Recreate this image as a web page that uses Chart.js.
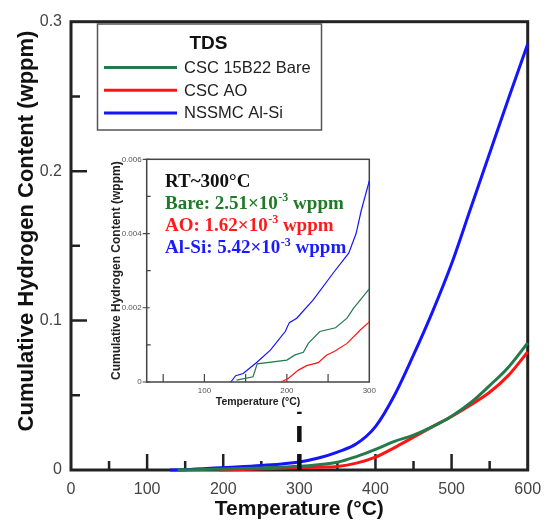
<!DOCTYPE html>
<html>
<head>
<meta charset="utf-8">
<script src="https://cdn.jsdelivr.net/npm/chart.js@4.4.1/dist/chart.umd.min.js"></script>
<style>
    html, body { margin: 0; padding: 0; background: #fff; }
    #wrap { position: relative; width: 548px; height: 522px; }
    #main { position: absolute; left: 0; top: 0; }
    #inset { position: absolute; left: 100px; top: 148px; }
</style>
</head>
<body>
<div id="wrap">
    <canvas id="main" width="548" height="522"></canvas>
    <canvas id="inset" width="280" height="264"></canvas>
</div>
<script>
// === DATA ===

// main plot, cumulative hydrogen (wppm) vs temperature (°C)
const tempBare = [140, 200, 250, 300, 325, 350, 375, 400, 425, 450, 475, 500, 525, 550, 575, 600];
const valBare  = [0.0001, 0.0006, 0.0014, 0.0025, 0.0036, 0.0052, 0.0090, 0.0138, 0.0192, 0.0233, 0.0290, 0.0360, 0.0450, 0.0565, 0.0690, 0.0850];

const tempAO = [195, 225, 250, 300, 325, 350, 375, 400, 425, 450, 475, 500, 525, 550, 575, 600];
const valAO  = [0, 0.0004, 0.0008, 0.0016, 0.0019, 0.0024, 0.0046, 0.0086, 0.0150, 0.0220, 0.0290, 0.0358, 0.0435, 0.0520, 0.0635, 0.0790];

const tempAlSi = [130, 150, 200, 250, 300, 325, 350, 375, 400, 425, 450, 475, 500, 525, 550, 575, 600];
const valAlSi  = [0, 0.0002, 0.0016, 0.0030, 0.0054, 0.0080, 0.0120, 0.0175, 0.0290, 0.0500, 0.0770, 0.1060, 0.1380, 0.1750, 0.2120, 0.2490, 0.2850];

// inset, RT ~ 300 °C
const insetTempBare = [139, 159, 164, 200, 210, 220, 226, 240, 259, 273, 281, 300];
const insetValBare  = [0.00005, 0.00014, 0.00049, 0.00059, 0.00073, 0.0008, 0.00104, 0.00136, 0.00146, 0.00172, 0.00199, 0.00251];

const insetTempAO = [193, 202, 214, 224, 238, 248, 258, 273, 289, 300];
const insetValAO  = [0, 0.0001, 0.00032, 0.00044, 0.00052, 0.00072, 0.00083, 0.00104, 0.0014, 0.00162];

const insetTempAlSi = [132, 138, 147, 163, 180, 198, 203, 212, 232, 256, 275, 284, 290, 300];
const insetValAlSi  = [0, 0.00017, 0.00023, 0.00052, 0.00086, 0.00136, 0.0016, 0.00172, 0.00221, 0.00293, 0.00347, 0.0040, 0.0046, 0.00542];

const seriesLabels = ['CSC 15B22 Bare', 'CSC AO', 'NSSMC Al-Si'];
const seriesColors = ['#237a4b', '#ff1414', '#1414ff'];

const noteNames  = ['Bare', 'AO', 'Al-Si'];
const noteValues = ['2.51', '1.62', '5.42'];
const noteColors = ['#1f7a26', '#ff1a1a', '#1a1aff'];

// ticks
const xTickLabels = [0, 100, 200, 300, 400, 500, 600];
const xMinorTicks = [50, 150, 250, 350, 450, 550];
const yTickLabels = [0, 0.1, 0.2, 0.3];
const yMinorTicks = [0.05, 0.15, 0.25];

const insetXTickLabels = [100, 200, 300];
const insetXTickMarks  = [50, 100, 150, 200, 250];
const insetYTickLabels = [0, 0.002, 0.004, 0.006];
const insetYMinorTicks = [0.001, 0.003, 0.005];

const markerTemp = 300;
const markerTop = 0.039;

const SANS = "'Liberation Sans', Arial, sans-serif";
const SERIF = "'Liberation Serif', 'Times New Roman', serif";

const pts = (xs, ys) => xs.map((x, i) => ({ x: x, y: ys[i] }));

// keep label overhang from shrinking the plot area
const noPad = s => { s.paddingLeft = 0; s.paddingRight = 0; s.paddingTop = 0; s.paddingBottom = 0; };

// === MAIN CHART ===
const mainDecor = {
    id: 'mainDecor',
    beforeDatasetsDraw(chart) {
        const { ctx, chartArea: a, scales: { x, y } } = chart;
        ctx.save();
        // frame
        ctx.strokeStyle = '#222';
        ctx.lineWidth = 3;
        ctx.strokeRect(a.left, a.top, a.right - a.left, a.bottom - a.top);
        // inward ticks
        ctx.lineWidth = 2.5;
        ctx.beginPath();
        xTickLabels.slice(1, -1).forEach(v => {
            const px = x.getPixelForValue(v);
            ctx.moveTo(px, a.bottom); ctx.lineTo(px, a.bottom - 16);
        });
        xMinorTicks.forEach(v => {
            const px = x.getPixelForValue(v);
            ctx.moveTo(px, a.bottom); ctx.lineTo(px, a.bottom - 9);
        });
        yTickLabels.slice(1, -1).forEach(v => {
            const py = y.getPixelForValue(v);
            ctx.moveTo(a.left, py); ctx.lineTo(a.left + 16, py);
        });
        yMinorTicks.forEach(v => {
            const py = y.getPixelForValue(v);
            ctx.moveTo(a.left, py); ctx.lineTo(a.left + 9, py);
        });
        ctx.stroke();
        ctx.restore();
    },
    afterDraw(chart) {
        const { ctx, scales: { x, y } } = chart;
        ctx.save();

        // dashed marker at 300 °C
        const mx = x.getPixelForValue(markerTemp);
        ctx.strokeStyle = '#111';
        ctx.lineWidth = 4.5;
        ctx.setLineDash([16, 12]);
        ctx.beginPath();
        ctx.moveTo(mx, y.getPixelForValue(0));
        ctx.lineTo(mx, y.getPixelForValue(markerTop));
        ctx.stroke();
        ctx.setLineDash([]);

        // y title
        ctx.fillStyle = '#111';
        ctx.font = 'bold 22px ' + SANS;
        ctx.textAlign = 'center';
        ctx.textBaseline = 'alphabetic';
        ctx.translate(33, 231);
        ctx.rotate(-Math.PI / 2);
        ctx.fillText('Cumulative Hydrogen Content (wppm)', 0, 0);
        ctx.setTransform(1, 0, 0, 1, 0, 0);

        // legend box
        ctx.fillStyle = '#fff';
        ctx.fillRect(97.5, 24, 224, 106);
        ctx.strokeStyle = '#555';
        ctx.lineWidth = 1.5;
        ctx.strokeRect(97.5, 24, 224, 106);
        ctx.fillStyle = '#111';
        ctx.font = 'bold 19px ' + SANS;
        ctx.textAlign = 'center';
        ctx.fillText('TDS', 208.5, 48.5);
        ctx.textAlign = 'left';
        ctx.font = '16.5px ' + SANS;
        seriesLabels.forEach((lab, i) => {
            const ly = 67.5 + i * 22.7;
            ctx.strokeStyle = seriesColors[i];
            ctx.lineWidth = 3;
            ctx.beginPath();
            ctx.moveTo(104, ly); ctx.lineTo(177, ly);
            ctx.stroke();
            ctx.fillStyle = '#222';
            ctx.fillText(lab, 184, ly + 5.5);
        });
        ctx.restore();
    }
};

const mainLine = (i, xs, ys) => ({
    label: seriesLabels[i],
    data: pts(xs, ys),
    borderColor: seriesColors[i],
    borderWidth: 3,
    pointRadius: 0,
    cubicInterpolationMode: 'monotone',
    clip: false
});

new Chart(document.getElementById('main'), {
    type: 'line',
    data: {
        datasets: [
            mainLine(0, tempBare, valBare),
            mainLine(1, tempAO, valAO),
            mainLine(2, tempAlSi, valAlSi)
        ]
    },
    options: {
        responsive: false,
        animation: false,
        layout: { padding: { top: 21.7, right: 20.3, bottom: 0, left: 0 } },
        plugins: { legend: { display: false }, tooltip: { enabled: false } },
        scales: {
            x: {
                type: 'linear', min: 0, max: 600,
                grid: { display: false, drawTicks: false },
                border: { display: false },
                afterBuildTicks: s => { s.ticks = xTickLabels.map(v => ({ value: v })); },
                afterFit: s => { s.height = 52; noPad(s); },
                ticks: { padding: 10, color: '#444', maxRotation: 0, autoSkip: false,
                         font: { family: SANS, size: 16 } },
                title: { display: true, text: 'Temperature (°C)', color: '#111', padding: 0,
                         font: { family: SANS, size: 21, weight: 'bold' } }
            },
            y: {
                type: 'linear', min: 0, max: 0.3,
                grid: { display: false, drawTicks: false },
                border: { display: false },
                afterBuildTicks: s => { s.ticks = yTickLabels.map(v => ({ value: v })); },
                afterFit: s => { s.width = 71; noPad(s); },
                ticks: { padding: 9, color: '#444', autoSkip: false,
                         font: { family: SANS, size: 16 },
                         callback: v => String(v) }
            }
        }
    },
    plugins: [mainDecor]
});

// === INSET CHART ===
const insetDecor = {
    id: 'insetDecor',
    beforeDatasetsDraw(chart) {
        const { ctx, chartArea: a, scales: { x, y } } = chart;
        ctx.save();
        ctx.fillStyle = '#fff';
        ctx.fillRect(a.left, a.top, a.right - a.left, a.bottom - a.top);
        ctx.strokeStyle = '#444';
        ctx.lineWidth = 1.5;
        ctx.strokeRect(a.left, a.top, a.right - a.left, a.bottom - a.top);
        ctx.lineWidth = 1.2;
        ctx.beginPath();
        insetXTickMarks.forEach(v => {
            const px = x.getPixelForValue(v);
            ctx.moveTo(px, a.bottom); ctx.lineTo(px, a.bottom - 8);
        });
        insetYTickLabels.forEach(v => {
            const py = y.getPixelForValue(v);
            ctx.moveTo(a.left - 4, py); ctx.lineTo(a.left + 3, py);
        });
        insetYMinorTicks.forEach(v => {
            const py = y.getPixelForValue(v);
            ctx.moveTo(a.left, py); ctx.lineTo(a.left + 4, py);
        });
        ctx.stroke();
        ctx.restore();
    },
    afterDraw(chart) {
        const { ctx } = chart;
        ctx.save();
        ctx.textAlign = 'left';
        ctx.textBaseline = 'alphabetic';
        ctx.fillStyle = '#111';
        ctx.font = 'bold 19px ' + SERIF;
        ctx.fillText('RT~300°C', 65, 39);
        noteNames.forEach((n, i) => {
            const by = 60.5 + i * 22.4;
            let tx = 65;
            ctx.fillStyle = noteColors[i];
            ctx.font = 'bold 19px ' + SERIF;
            const head = n + ': ' + noteValues[i] + '×10';
            ctx.fillText(head, tx, by);
            tx += ctx.measureText(head).width;
            ctx.font = 'bold 12px ' + SERIF;
            ctx.fillText('-3', tx + 0.5, by - 7.5);
            tx += ctx.measureText('-3').width + 0.5;
            ctx.font = 'bold 19px ' + SERIF;
            ctx.fillText(' wppm', tx, by);
        });
        ctx.restore();
    }
};

const insetLine = (i, xs, ys) => ({
    label: seriesLabels[i],
    data: pts(xs, ys),
    borderColor: seriesColors[i],
    borderWidth: 1.2,
    pointRadius: 0,
    tension: 0,
    clip: false
});

new Chart(document.getElementById('inset'), {
    type: 'line',
    data: {
        datasets: [
            insetLine(0, insetTempBare, insetValBare),
            insetLine(1, insetTempAO, insetValAO),
            insetLine(2, insetTempAlSi, insetValAlSi)
        ]
    },
    options: {
        responsive: false,
        animation: false,
        layout: { padding: { top: 11.3, right: 10.7, bottom: 0, left: 0 } },
        plugins: { legend: { display: false }, tooltip: { enabled: false } },
        scales: {
            x: {
                type: 'linear', min: 30, max: 300,
                grid: { display: false, drawTicks: false },
                border: { display: false },
                afterBuildTicks: s => { s.ticks = insetXTickLabels.map(v => ({ value: v })); },
                afterFit: s => { s.height = 30; noPad(s); },
                ticks: { padding: 4, color: '#555', maxRotation: 0, autoSkip: false,
                         font: { family: SANS, size: 8 } },
                title: { display: true, text: 'Temperature (°C)', color: '#222',
                         padding: { top: 0, bottom: 4 },
                         font: { family: SANS, size: 10.5, weight: 'bold' } }
            },
            y: {
                type: 'linear', min: 0, max: 0.006,
                grid: { display: false, drawTicks: false },
                border: { display: false },
                afterBuildTicks: s => { s.ticks = insetYTickLabels.map(v => ({ value: v })); },
                afterFit: s => { s.width = 46.7; noPad(s); },
                ticks: { padding: 5, color: '#555', autoSkip: false,
                         font: { family: SANS, size: 8 },
                         callback: v => String(v) },
                title: { display: true, text: 'Cumulative Hydrogen Content (wppm)', color: '#222',
                         padding: { top: 9, bottom: 0 },
                         font: { family: SANS, size: 12, weight: 'bold' } }
            }
        }
    },
    plugins: [insetDecor]
});
</script>
</body>
</html>
